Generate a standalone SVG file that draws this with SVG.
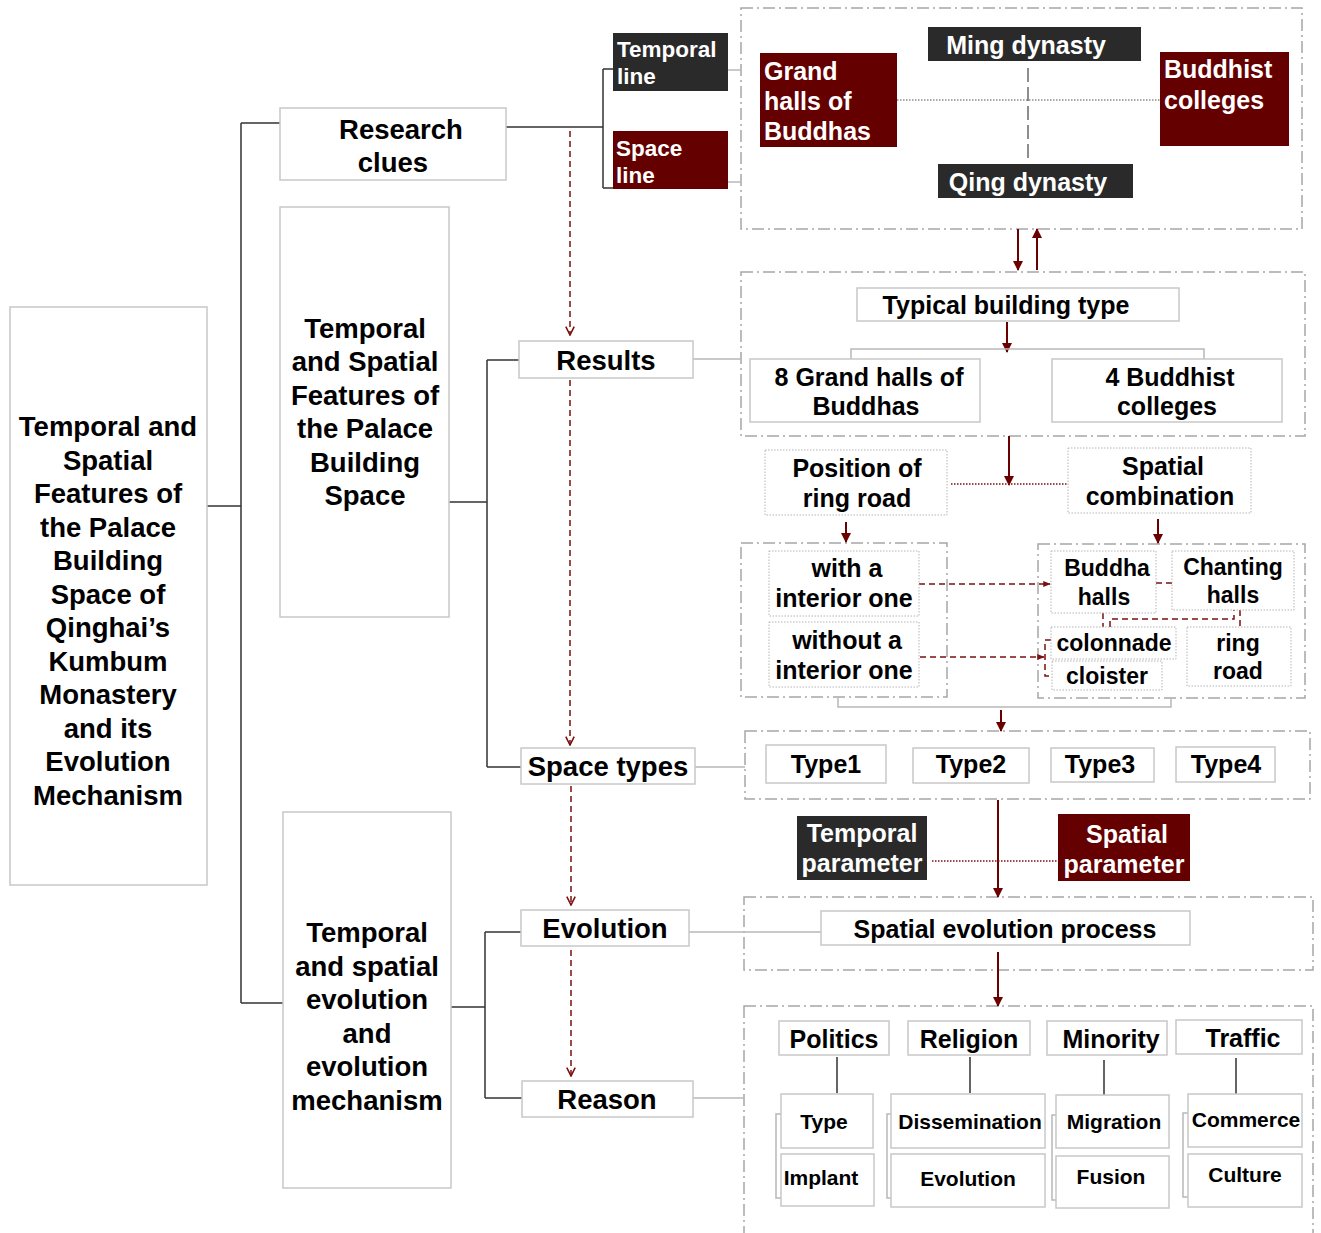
<svg xmlns="http://www.w3.org/2000/svg" width="1321" height="1233" viewBox="0 0 1321 1233">
<style>
.box{fill:#fff;stroke:#c8c8c8;stroke-width:1.5}
.dd{fill:none;stroke:#a6a6a6;stroke-width:1.5;stroke-dasharray:12 4 2 4}
.dot{fill:#fff;stroke:#b4b4b4;stroke-width:1;stroke-dasharray:1.5 1.5}
.dark{fill:#2a2a2a}
.red{fill:#640000}
text{font-family:"Liberation Sans",Arial,sans-serif;font-weight:bold;fill:#000;text-anchor:middle}
.w{fill:#fff}
.l{text-anchor:start}
.f27{font-size:27.5px}
.f25{font-size:25px}
.f23{font-size:23px}
.f22{font-size:22.5px}
.f21{font-size:21px}
.ln{fill:none;stroke:#333;stroke-width:1.5}
.lg{fill:none;stroke:#b8b8b8;stroke-width:1.5}
.ar{fill:none;stroke:#6b0000;stroke-width:2}
.rd{fill:none;stroke:#7a1010;stroke-width:1.5;stroke-dasharray:6 4}
.rdd{fill:none;stroke:#7a1010;stroke-width:1.5;stroke-dasharray:1.5 1.5}
.gdash{fill:none;stroke:#444;stroke-width:1.2;stroke-dasharray:14 5}
.gdot{fill:none;stroke:#555;stroke-width:1.2;stroke-dasharray:1.5 1.5}
</style>
<defs>
<marker id="tri" viewBox="0 0 10 10" refX="9" refY="5" markerWidth="5" markerHeight="5" orient="auto" markerUnits="strokeWidth">
<path d="M0,0 L10,5 L0,10 z" fill="#6b0000"/>
</marker>
<marker id="chev" viewBox="0 0 10 10" refX="9" refY="5" markerWidth="7" markerHeight="7" orient="auto" markerUnits="strokeWidth">
<path d="M1,1 L9,5 L1,9" fill="none" stroke="#7a1010" stroke-width="1.5"/>
</marker>
<marker id="stri" viewBox="0 0 10 10" refX="9" refY="5" markerWidth="5" markerHeight="5" orient="auto" markerUnits="strokeWidth">
<path d="M0,1 L10,5 L0,9 z" fill="#7a1010"/>
</marker>
</defs>

<g id="frames">
<rect class="dd" x="741" y="8" width="561" height="221"/>
<rect class="dd" x="741" y="272" width="564" height="164"/>
<rect class="dd" x="741" y="543" width="206" height="154"/>
<rect class="dd" x="1038" y="544" width="267" height="154"/>
<rect class="dd" x="745" y="731" width="565" height="68"/>
<rect class="dd" x="744" y="897" width="569" height="73"/>
<rect class="dd" x="744" y="1006" width="569" height="240"/>
</g>

<g id="connectors">
<path class="ln" d="M207,506 H241 M241,123 V1003 M241,123 H280 M241,1003 H283"/>
<path class="ln" d="M506,127 H603 M603,69 V188 M603,69 H614 M603,188 H614"/>
<path class="lg" d="M728,70 H741 M728,182 H741"/>
<path class="ln" d="M449,502 H487 M487,360 V767 M487,360 H519 M487,767 H521"/>
<path class="lg" d="M693,359 H741 M695,767 H745"/>
<path class="ln" d="M451,1007 H485 M485,932 V1098 M485,932 H521 M485,1098 H522"/>
<path class="lg" d="M689,932 H821 M693,1098 H744"/>
<path class="rd" marker-end="url(#chev)" d="M570,131 V335"/>
<path class="rd" marker-end="url(#chev)" d="M570,380 V745"/>
<path class="rd" marker-end="url(#chev)" d="M571,786 V905"/>
<path class="rd" marker-end="url(#chev)" d="M571,950 V1076"/>
<path class="gdot" d="M897,100 H1160"/>
<path class="gdash" d="M1028,68 V162"/>
<path class="ar" marker-end="url(#tri)" d="M1018,229 V270"/>
<path class="ar" marker-end="url(#tri)" d="M1037,270 V229"/>
<path class="ar" marker-end="url(#tri)" d="M1007,322 V352"/>
<path class="lg" d="M851,359 V349 H1204 V359"/>
<path class="ar" marker-end="url(#tri)" d="M1009,436 V485"/>
<path class="rdd" d="M951,484 H1068"/>
<path class="ar" marker-end="url(#tri)" d="M846,522 V542"/>
<path class="ar" marker-end="url(#tri)" d="M1158,519 V543"/>
<path class="rd" marker-end="url(#stri)" d="M919,584 H1050"/>
<path class="rd" marker-end="url(#stri)" d="M920,657 H1044"/>
<path class="rd" d="M1051,640 H1045 V676 H1052"/>
<path class="rd" d="M1156,583 H1172"/>
<path class="rd" d="M1103,613 V627 M1110,627 V619 H1234 V610 M1240,610 V627"/>
<path class="lg" d="M838,697 V707 H1171 V698"/>
<path class="ar" marker-end="url(#tri)" d="M1001,710 V731"/>
<path class="ar" marker-end="url(#tri)" d="M998,800 V897"/>
<path class="rdd" d="M932,861 H1057"/>
<path class="ar" marker-end="url(#tri)" d="M998,952 V1006"/>
<path class="ln" d="M837,1057 V1093 M970,1057 V1093 M1104,1060 V1095 M1236,1058 V1094"/>
<path class="lg" d="M781,1114 H776 V1198 H781 M891,1114 H887 V1198 H891 M1056,1115 H1052 V1200 H1056 M1188,1113 H1183 V1197 H1188"/>
</g>

<g id="n-main">
<rect class="box" x="10" y="307" width="197" height="578"/>
<text class="f27" x="108"><tspan x="108" y="436">Temporal and</tspan><tspan x="108" y="469.5">Spatial</tspan><tspan x="108" y="503">Features of</tspan><tspan x="108" y="536.5">the Palace</tspan><tspan x="108" y="570">Building</tspan><tspan x="108" y="603.5">Space of</tspan><tspan x="108" y="637">Qinghai’s</tspan><tspan x="108" y="670.5">Kumbum</tspan><tspan x="108" y="704">Monastery</tspan><tspan x="108" y="737.5">and its</tspan><tspan x="108" y="771">Evolution</tspan><tspan x="108" y="805">Mechanism</tspan></text>
</g>
<g id="n-research">
<rect class="box" x="280" y="108" width="226" height="72"/>
<text class="f27"><tspan x="401" y="138.5">Research</tspan><tspan x="393" y="171.5">clues</tspan></text>
</g>
<g id="n-features">
<rect class="box" x="280" y="207" width="169" height="410"/>
<text class="f27"><tspan x="365" y="337.5">Temporal</tspan><tspan x="365" y="370.5">and Spatial</tspan><tspan x="365" y="404.5">Features of</tspan><tspan x="365" y="437.5">the Palace</tspan><tspan x="365" y="471.5">Building</tspan><tspan x="365" y="504.5">Space</tspan></text>
</g>
<g id="n-evomech">
<rect class="box" x="283" y="812" width="168" height="376"/>
<text class="f27"><tspan x="367" y="941.5">Temporal</tspan><tspan x="367" y="975.5">and spatial</tspan><tspan x="367" y="1008.5">evolution</tspan><tspan x="367" y="1042.5">and</tspan><tspan x="367" y="1075.5">evolution</tspan><tspan x="367" y="1109.5">mechanism</tspan></text>
</g>
<g id="n-results"><rect class="box" x="519" y="341" width="174" height="37"/><text class="f27" x="606" y="369.5">Results</text></g>
<g id="n-spacetypes"><rect class="box" x="521" y="748" width="174" height="36"/><text class="f27" x="608" y="775.5">Space types</text></g>
<g id="n-evolution"><rect class="box" x="521" y="910" width="168" height="36"/><text class="f27" x="605" y="937.5">Evolution</text></g>
<g id="n-reason"><rect class="box" x="522" y="1081" width="171" height="36"/><text class="f27" x="607" y="1108.5">Reason</text></g>

<g id="n-temporalline"><rect class="dark" x="613" y="33" width="115" height="58"/><text class="f22 w l"><tspan x="617" y="57">Temporal</tspan><tspan x="617" y="84">line</tspan></text></g>
<g id="n-spaceline"><rect class="red" x="613" y="131" width="115" height="58"/><text class="f22 w l"><tspan x="616" y="156">Space</tspan><tspan x="616" y="183">line</tspan></text></g>

<g id="n-ming"><rect class="dark" x="928" y="27" width="213" height="34"/><text class="f25 w" x="1026" y="54">Ming dynasty</text></g>
<g id="n-qing"><rect class="dark" x="938" y="164" width="195" height="34"/><text class="f25 w" x="1028" y="191">Qing dynasty</text></g>
<g id="n-grandhalls"><rect class="red" x="760" y="53" width="137" height="94"/><text class="f25 w l"><tspan x="764" y="80">Grand</tspan><tspan x="764" y="110">halls of</tspan><tspan x="764" y="140">Buddhas</tspan></text></g>
<g id="n-colleges"><rect class="red" x="1160" y="52" width="129" height="94"/><text class="f25 w l"><tspan x="1164" y="78">Buddhist</tspan><tspan x="1164" y="109">colleges</tspan></text></g>

<g id="n-typical"><rect class="box" x="857" y="288" width="322" height="33"/><text class="f25" x="1006" y="314">Typical building type</text></g>
<g id="n-8grand"><rect class="box" x="750" y="359" width="230" height="63"/><text class="f25"><tspan x="869" y="386">8 Grand halls of</tspan><tspan x="866" y="415">Buddhas</tspan></text></g>
<g id="n-4colleges"><rect class="box" x="1052" y="359" width="230" height="63"/><text class="f25"><tspan x="1170" y="386">4 Buddhist</tspan><tspan x="1167" y="415">colleges</tspan></text></g>

<g id="n-position"><rect class="dot" x="765" y="450" width="182" height="65"/><text class="f25"><tspan x="857" y="477">Position of</tspan><tspan x="857" y="507">ring road</tspan></text></g>
<g id="n-spatialcomb"><rect class="dot" x="1068" y="448" width="183" height="65"/><text class="f25"><tspan x="1163" y="475">Spatial</tspan><tspan x="1160" y="505">combination</tspan></text></g>

<g id="n-with"><rect class="dot" x="769" y="551" width="150" height="65"/><text class="f25"><tspan x="847" y="577">with a</tspan><tspan x="844" y="607">interior one</tspan></text></g>
<g id="n-without"><rect class="dot" x="769" y="622" width="150" height="65"/><text class="f25"><tspan x="847" y="649">without a</tspan><tspan x="844" y="679">interior one</tspan></text></g>

<g id="n-buddhahalls"><rect class="dot" x="1051" y="551" width="105" height="62"/><text class="f23"><tspan x="1107" y="576">Buddha</tspan><tspan x="1104" y="605">halls</tspan></text></g>
<g id="n-chanting"><rect class="dot" x="1172" y="551" width="122" height="59"/><text class="f23"><tspan x="1233" y="575">Chanting</tspan><tspan x="1233" y="603">halls</tspan></text></g>
<g id="n-colonnade"><rect class="dot" x="1051" y="627" width="125" height="32"/><text class="f23" x="1114" y="651">colonnade</text></g>
<g id="n-cloister"><rect class="dot" x="1052" y="661" width="110" height="29"/><text class="f23" x="1107" y="684">cloister</text></g>
<g id="n-ringroad"><rect class="dot" x="1187" y="627" width="104" height="59"/><text class="f23"><tspan x="1238" y="651">ring</tspan><tspan x="1238" y="679">road</tspan></text></g>

<g id="n-type1"><rect class="box" x="766" y="745" width="120" height="38"/><text class="f25" x="826" y="773">Type1</text></g>
<g id="n-type2"><rect class="box" x="913" y="748" width="116" height="35"/><text class="f25" x="971" y="773">Type2</text></g>
<g id="n-type3"><rect class="box" x="1051" y="748" width="103" height="34"/><text class="f25" x="1100" y="773">Type3</text></g>
<g id="n-type4"><rect class="box" x="1176" y="747" width="99" height="35"/><text class="f25" x="1226" y="773">Type4</text></g>

<g id="n-tparam"><rect class="dark" x="797" y="816" width="130" height="64"/><text class="f25 w"><tspan x="862" y="842">Temporal</tspan><tspan x="862" y="872">parameter</tspan></text></g>
<g id="n-sparam"><rect class="red" x="1058" y="814" width="132" height="67"/><text class="f25 w"><tspan x="1127" y="843">Spatial</tspan><tspan x="1124" y="873">parameter</tspan></text></g>

<g id="n-sep"><rect class="box" x="821" y="911" width="369" height="34"/><text class="f25" x="1005" y="938">Spatial evolution process</text></g>

<g id="n-politics"><rect class="box" x="779" y="1021" width="110" height="34"/><text class="f25" x="834" y="1048">Politics</text></g>
<g id="n-religion"><rect class="box" x="908" y="1021" width="122" height="34"/><text class="f25" x="969" y="1048">Religion</text></g>
<g id="n-minority"><rect class="box" x="1047" y="1021" width="120" height="34"/><text class="f25" x="1111" y="1048">Minority</text></g>
<g id="n-traffic"><rect class="box" x="1176" y="1020" width="126" height="34"/><text class="f25" x="1243" y="1047">Traffic</text></g>

<g id="n-type"><rect class="box" x="781" y="1094" width="92" height="54"/><text class="f21" x="824" y="1128.5">Type</text></g>
<g id="n-implant"><rect class="box" x="781" y="1154" width="93" height="52"/><text class="f21" x="821" y="1184.5">Implant</text></g>
<g id="n-dissem"><rect class="box" x="891" y="1094" width="154" height="54"/><text class="f21" x="970" y="1128.5">Dissemination</text></g>
<g id="n-evol2"><rect class="box" x="891" y="1154" width="154" height="53"/><text class="f21" x="968" y="1185.5">Evolution</text></g>
<g id="n-migration"><rect class="box" x="1056" y="1095" width="113" height="53"/><text class="f21" x="1114" y="1128.5">Migration</text></g>
<g id="n-fusion"><rect class="box" x="1056" y="1156" width="113" height="52"/><text class="f21" x="1111" y="1183.5">Fusion</text></g>
<g id="n-commerce"><rect class="box" x="1188" y="1094" width="114" height="53"/><text class="f21" x="1246" y="1126.5">Commerce</text></g>
<g id="n-culture"><rect class="box" x="1188" y="1154" width="114" height="53"/><text class="f21" x="1245" y="1181.5">Culture</text></g>
</svg>
